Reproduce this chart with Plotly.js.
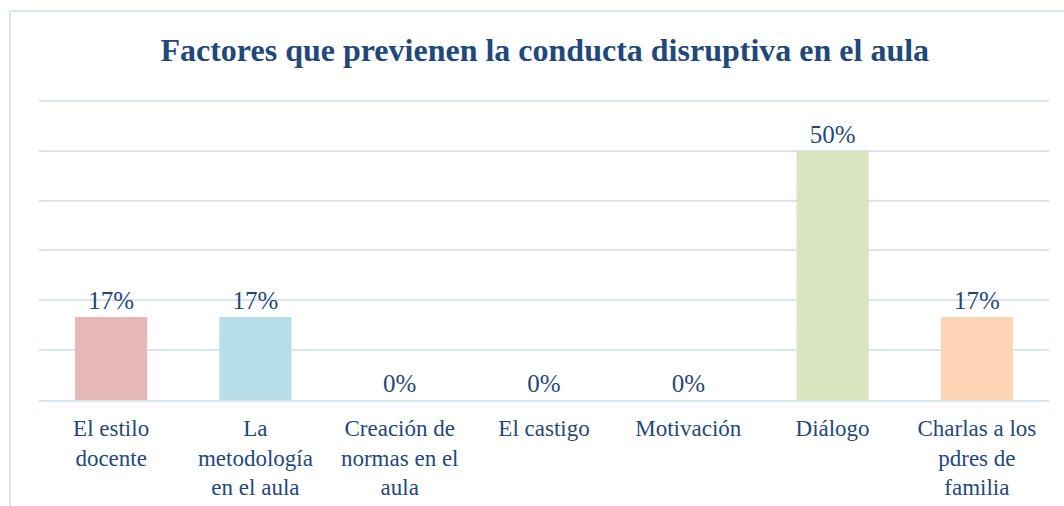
<!DOCTYPE html>
<html>
<head>
<meta charset="utf-8">
<script src="https://cdn.plot.ly/plotly-3.0.1.min.js"></script>
<style>html,body{margin:0;padding:0;background:#fff;}#chart{width:1064px;height:506px;}</style>
</head>
<body>
<div id="chart"></div>
<script>
const categories = [
  "El estilo<br>docente",
  "La<br>metodología<br>en el aula",
  "Creación de<br>normas en el<br>aula",
  "El castigo",
  "Motivación",
  "Diálogo",
  "Charlas a los<br>pdres de<br>familia"
];
const percentages = [16.67, 16.67, 0, 0, 0, 50, 16.67];
const barColors = ["#E6B9B8", "#B7DEE8", "#DDE6CC", "#DDE6CC", "#DDE6CC", "#D7E4BD", "#FCD5B5"];

const textColor = "#1F497D";
const gridColor = "#D9E4F4";
const serif = "'Liberation Serif', 'Times New Roman', Times, serif";

const trace = {
  type: "bar",
  x: categories,
  y: percentages,
  marker: { color: barColors },
  text: percentages.map(v => Math.round(v) + "%"),
  textposition: "outside",
  textfont: { family: serif, size: 25, color: textColor },
  cliponaxis: false,
  hoverinfo: "none"
};

const layout = {
  width: 1064,
  height: 506,
  margin: { l: 39, r: 15, t: 96, b: 106 },
  paper_bgcolor: "#ffffff",
  plot_bgcolor: "#ffffff",
  bargap: 0.5,
  showlegend: false,
  title: {
    text: "<b>Factores que previenen la conducta disruptiva en el aula</b>",
    font: { family: serif, size: 32, color: textColor },
    x: 0.512, xanchor: "center",
    y: 1 - 50 / 506, yanchor: "middle", yref: "container"
  },
  xaxis: {
    tickfont: { family: serif, size: 23, color: textColor },
    showline: true, linecolor: gridColor, linewidth: 2,
    ticks: "outside", ticklen: 6, tickcolor: "rgba(0,0,0,0)",
    tickangle: 0, automargin: false, fixedrange: true
  },
  yaxis: {
    range: [0, 61], dtick: 10,
    showticklabels: false, showgrid: true, gridcolor: gridColor, gridwidth: 2,
    zeroline: false, automargin: false, fixedrange: true
  },
  shapes: [
    { type: "line", xref: "paper", yref: "paper", x0: (10 - 39) / 1010, x1: 1.2, y0: 1 + 85 / 304, y1: 1 + 85 / 304, line: { color: gridColor, width: 2 } },
    { type: "line", xref: "paper", yref: "paper", x0: (10 - 39) / 1010, x1: (10 - 39) / 1010, y0: 1 + 85 / 304, y1: -0.6, line: { color: gridColor, width: 2 } }
  ]
};

Plotly.newPlot("chart", [trace], layout, { displayModeBar: false, staticPlot: true });
</script>
</body>
</html>
